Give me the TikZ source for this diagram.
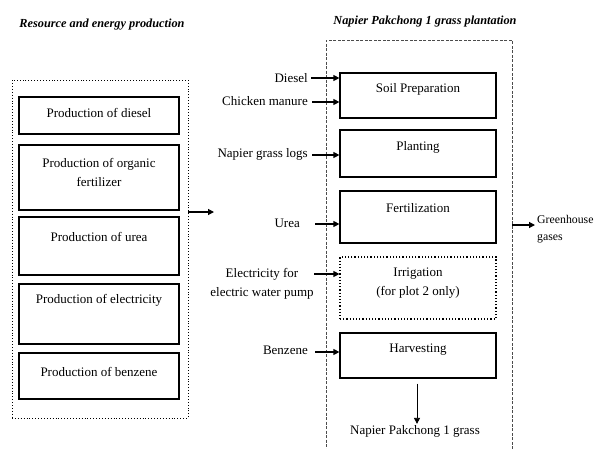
\documentclass[tikz,border=0pt]{standalone}
\usepackage{fontspec}
\setmainfont{Liberation Serif}
\usetikzlibrary{arrows.meta}
\begin{document}
\begin{tikzpicture}[x=1pt,y=-1pt,
  txt/.style={font=\fontsize{13}{19}\selectfont, inner sep=1pt, align=center},
  ttl/.style={font=\fontsize{12.3}{14}\selectfont\bfseries\itshape, inner sep=0pt},
  lbox/.style={draw, line width=1.2pt, minimum width=160pt, inner sep=0pt},
  rbox/.style={draw, line width=1.2pt, minimum width=156pt, inner sep=0pt},
  arr/.style={-{Triangle[length=6pt,width=6pt]}, line width=1.2pt},
  outl/.style={draw, line width=0.9pt, dotted},
  outr/.style={draw, line width=0.6pt, dash pattern=on 3pt off 1.5pt, gray!60!black}
]
\useasboundingbox (0,0) rectangle (598,448);
\clip (0,0) rectangle (598,448);

% titles
\node[ttl] (tl) at (102,25) {Resource and energy production};
\node[ttl] (tr) at (425,22) {Napier Pakchong 1 grass plantation};

% left group
\node[outl, minimum width=176pt, minimum height=338pt] (L) at (100,249) {};
\node[lbox, minimum height=37pt] (p1) at (99,115.5) {};
\node[txt] (p1t) at (99,113) {Production of diesel};
\node[lbox, minimum height=65pt] (p2) at (99,177.5) {};
\node[txt] (p2t) at (99,172.5) {Production of organic\\fertilizer};
\node[lbox, minimum height=58pt] (p3) at (99,246) {};
\node[txt] (p3t) at (99,237) {Production of urea};
\node[lbox, minimum height=60pt] (p4) at (99,314) {};
\node[txt] (p4t) at (99,300) {Production of electricity};
\node[lbox, minimum height=46pt] (p5) at (99,376) {};
\node[txt] (p5t) at (99,372) {Production of benzene};

\coordinate (mid) at (214,212);
\draw[arr] (L.east |- mid) -- (mid);

% right group
\node[outr, minimum width=186pt, minimum height=430pt] (R) at (419,255) {};
\node[rbox, minimum height=45pt] (s1) at (418,95.5) {};
\node[txt] (s1t) at (418,89) {Soil Preparation};
\node[rbox, minimum height=47pt] (s2) at (418,153.5) {};
\node[txt] (s2t) at (418,147) {Planting};
\node[rbox, minimum height=52pt] (s3) at (418,217) {};
\node[txt] (s3t) at (418,208) {Fertilization};
\node[draw, dotted, line width=1.2pt, minimum width=156pt, minimum height=62pt, inner sep=0pt] (s4) at (418,288) {};
\node[txt] (s4t) at (418,283.5) {Irrigation\\(for plot 2 only)};
\node[rbox, minimum height=45pt] (s5) at (418,355.5) {};
\node[txt] (s5t) at (418,350) {Harvesting};

% inputs
\node[txt, anchor=east] (i1) at (309,78) {Diesel};
\node[txt, anchor=east] (i2) at (309,101) {Chicken manure};
\node[txt, anchor=east] (i3) at (309,154) {Napier grass logs};
\node[txt, anchor=east] (i4) at (301,223) {Urea};
\node[txt] (i5) at (262,284) {Electricity for\\electric water pump};
\node[txt, anchor=east] (i6) at (309,350) {Benzene};

\coordinate (a1) at (311,78);
\coordinate (a2) at (312,102);
\coordinate (a3) at (312,155);
\coordinate (a4) at (315,224);
\coordinate (a5) at (314,274);
\coordinate (a6) at (315,352);
\draw[arr] (a1) -- (a1 -| s1.west);
\draw[arr] (a2) -- (a2 -| s1.west);
\draw[arr] (a3) -- (a3 -| s2.west);
\draw[arr] (a4) -- (a4 -| s3.west);
\draw[arr] (a5) -- (a5 -| s4.west);
\draw[arr] (a6) -- (a6 -| s5.west);

% output
\coordinate (gh) at (535,225);
\draw[arr] (R.east |- gh) -- (gh);
\node[txt, anchor=north west, align=left, inner sep=0pt, font=\fontsize{11.8}{17}\selectfont] (ght) at (537,215) {Greenhouse\\gases};

\node[txt] (np) at (415,431) {Napier Pakchong 1 grass};
\draw[arr, line width=0.8pt] (s5.south -| 417,0) ++(0,5) -- (np.north -| 417,0);
\end{tikzpicture}
\end{document}
